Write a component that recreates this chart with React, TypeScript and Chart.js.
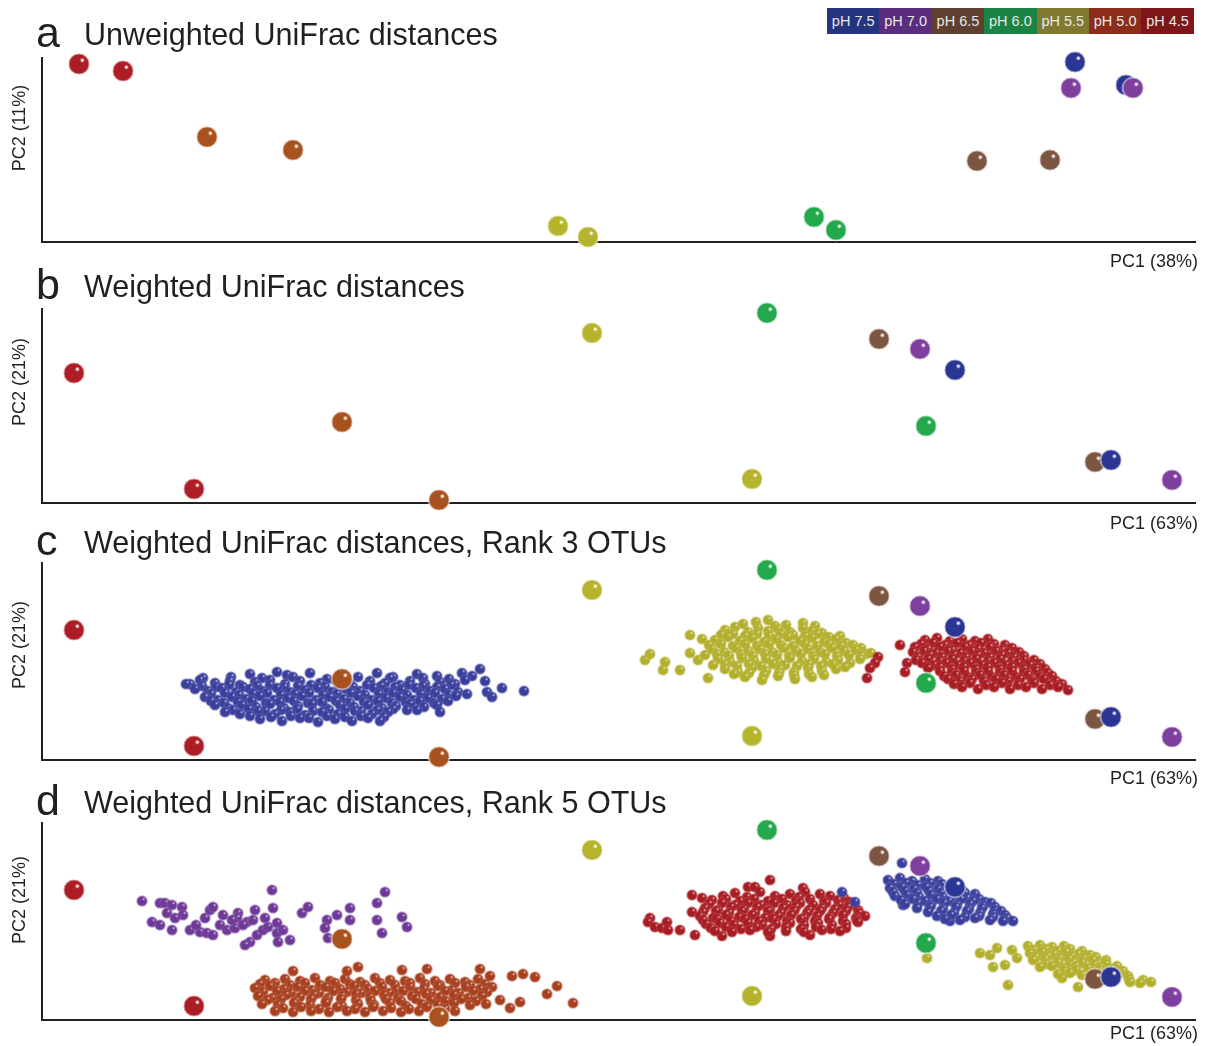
import React, { useEffect, useRef } from "react";
import { Chart, registerables } from "chart.js";
Chart.register(...registerables);

const FONT = '"Liberation Sans", Arial, Helvetica, sans-serif';
const INK = "#231f20";

// ---------- legend ----------
const legendLabels = ["pH 7.5", "pH 7.0", "pH 6.5", "pH 6.0", "pH 5.5", "pH 5.0", "pH 4.5"];
const legendColors = ["#24347f", "#5b2d7e", "#5e3f30", "#1a8445", "#7f7a30", "#8c2d1b", "#7e1518"];

// ---------- large sample points (PC1, PC2 scores, arbitrary units) ----------
type P = [number, number];
const phGroups = ["4.5", "5.0", "5.5", "6.0", "6.5", "7.5", "7.0"];
const largeColors: Record<string, string> = {
  "4.5": "#ad1d26", "5.0": "#a8521f", "5.5": "#b5b42d", "6.0": "#23a84b",
  "6.5": "#7d5642", "7.0": "#7f3f9e", "7.5": "#2b3594",
};

const unweighted: Record<string, P[]> = {
  "4.5": [[3.8, 17.8], [8.2, 17.1]],
  "5.0": [[16.6, 10.5], [25.2, 9.2]],
  "5.5": [[51.7, 1.6], [54.7, 0.5]],
  "6.0": [[77.3, 2.5], [79.5, 1.2]],
  "6.5": [[93.6, 8.1], [100.9, 8.2]],
  "7.5": [[103.4, 18.0], [108.5, 15.7]],
  "7.0": [[103.0, 15.4], [109.2, 15.4]],
};

const weighted: Record<string, P[]> = {
  "4.5": [[3.3, 13.0], [15.3, 1.4]],
  "5.0": [[30.1, 8.1], [39.8, 0.3]],
  "5.5": [[55.1, 17.0], [71.1, 2.4]],
  "6.0": [[72.6, 19.0], [88.5, 7.7]],
  "6.5": [[83.8, 16.4], [105.4, 4.1]],
  "7.5": [[91.4, 13.3], [107.0, 4.3]],
  "7.0": [[87.9, 15.4], [113.1, 2.3]],
};

// ---------- OTU clouds, rank 3 ----------
const rank3Blue: P[] = [
  [20.9, 8.6], [23.6, 8.8], [24.6, 8.5], [26.9, 8.7], [29.8, 8.4], [33.6, 8.7], [35.2, 8.3], [37.6, 8.6], [39.6, 8.4], [42.1, 8.7],
  [16.2, 8.2], [19.0, 8.3], [22.1, 8.2], [25.2, 8.3], [28.6, 8.1], [31.7, 8.3], [34.9, 8.2], [38.2, 8.2], [40.8, 8.1], [43.1, 8.4],
  [14.9, 7.6], [15.9, 8.0], [17.4, 7.7], [18.9, 7.9], [19.9, 7.5], [21.4, 7.8], [22.9, 8.0], [24.4, 7.6], [25.9, 7.9], [27.9, 7.7],
  [29.4, 8.0], [30.9, 7.6], [32.9, 7.9], [34.4, 7.7], [35.9, 7.5], [36.9, 7.9], [38.4, 7.6], [39.9, 7.8], [41.4, 7.6], [42.4, 8.0],
  [16.1, 7.4], [17.5, 7.3], [18.8, 7.5], [20.2, 7.3], [21.6, 7.4], [22.9, 7.5], [24.3, 7.3], [25.7, 7.4], [27.0, 7.5], [28.4, 7.3],
  [29.8, 7.4], [31.2, 7.3], [32.6, 7.5], [34.0, 7.4], [35.4, 7.3], [36.8, 7.5], [38.2, 7.4], [39.6, 7.3], [41.0, 7.5],
  [15.4, 7.1], [16.7, 6.9], [18.1, 7.2], [19.5, 6.8], [20.9, 7.1], [22.2, 6.9], [23.6, 7.2], [24.9, 6.8], [26.4, 7.0], [27.7, 7.2],
  [29.1, 6.8], [30.5, 7.1], [31.9, 6.9], [33.3, 7.2], [34.7, 6.8], [36.1, 7.0], [37.5, 7.2], [38.9, 6.9], [40.4, 7.1], [41.7, 6.8],
  [17.0, 6.6], [18.4, 6.7], [19.8, 6.5], [21.2, 6.6], [22.6, 6.7], [24.0, 6.5], [25.4, 6.6], [26.8, 6.7], [28.2, 6.5], [29.6, 6.6],
  [31.0, 6.7], [32.4, 6.5], [33.8, 6.6], [35.2, 6.7], [36.6, 6.5], [38.0, 6.6], [39.4, 6.7], [40.8, 6.5], [42.6, 6.6],
  [16.4, 6.3], [17.7, 6.0], [19.1, 6.3], [20.5, 6.1], [21.9, 6.4], [23.3, 6.0], [24.7, 6.2], [26.1, 6.4], [27.5, 6.0], [28.9, 6.3],
  [30.3, 6.1], [31.7, 6.4], [33.1, 6.0], [34.5, 6.2], [35.9, 6.3], [37.3, 6.0], [38.7, 6.2], [40.1, 6.1], [41.5, 6.4],
  [17.0, 5.9], [18.3, 5.7], [19.7, 5.8], [21.1, 5.9], [22.5, 5.7], [23.9, 5.8], [25.3, 5.9], [26.7, 5.7], [28.1, 5.8], [29.5, 5.9],
  [30.9, 5.7], [32.3, 5.8], [33.7, 5.9], [35.1, 5.7], [36.5, 5.8], [37.9, 5.9], [39.3, 5.7], [40.7, 5.9],
  [17.4, 5.5], [18.7, 5.2], [20.1, 5.5], [21.5, 5.3], [22.9, 5.6], [24.3, 5.2], [25.7, 5.4], [27.1, 5.6], [28.5, 5.2], [29.9, 5.5],
  [31.3, 5.3], [32.7, 5.5], [34.1, 5.2], [35.5, 5.4], [36.9, 5.6], [38.3, 5.3], [39.6, 5.5],
  [19.2, 5.0], [20.8, 5.1], [22.4, 4.9], [24.0, 5.0], [25.6, 5.1], [27.2, 4.9], [28.8, 5.0], [30.4, 5.1], [32.0, 4.9], [33.6, 5.0], [35.2, 5.1], [37.6, 5.0],
  [18.4, 4.8], [19.9, 4.6], [21.7, 4.9], [23.4, 4.6], [24.9, 4.8], [26.4, 4.5], [28.1, 4.8], [29.7, 4.6], [31.4, 4.9], [33.1, 4.6], [34.7, 4.8],
  [20.9, 4.4], [23.0, 4.3], [25.0, 4.4], [26.8, 4.2], [28.6, 4.4], [30.4, 4.3], [32.0, 4.4], [34.3, 4.3],
  [21.9, 4.1], [24.1, 3.9], [25.9, 4.2], [27.7, 3.8], [29.4, 4.1], [31.1, 3.9], [32.7, 4.2], [33.9, 3.9],
  [43.9, 9.1], [44.4, 7.9], [44.6, 6.8], [45.1, 6.3], [46.1, 7.2], [48.3, 6.9], [39.9, 4.8], [36.6, 5.0], [14.5, 7.6],
];

const rank3Olive: P[] = [
  [60.4, 10.0], [60.9, 10.6], [62.2, 9.0], [62.4, 9.8], [63.9, 9.0], [64.9, 12.5], [66.1, 12.1], [64.9, 10.7], [65.7, 10.0], [66.7, 8.2],
  [72.7, 14.0], [73.4, 13.4], [76.2, 13.7], [70.2, 13.6], [71.5, 13.8], [74.5, 13.5], [77.4, 13.4],
  [68.4, 13.0], [69.4, 13.3], [70.7, 12.8], [71.7, 13.2], [72.7, 12.9], [73.7, 13.1], [74.9, 12.8], [76.2, 13.2], [77.1, 12.9], [78.1, 12.7],
  [68.0, 12.5], [69.2, 12.6], [70.4, 12.4], [71.6, 12.6], [72.8, 12.4], [74.0, 12.6], [75.2, 12.5], [76.4, 12.4], [77.6, 12.6], [78.8, 12.3], [79.9, 12.4],
  [67.4, 12.0], [68.7, 12.3], [69.9, 11.9], [71.1, 12.2], [72.3, 11.8], [73.5, 12.1], [74.7, 12.3], [75.9, 11.9], [77.1, 12.2], [78.3, 11.8], [79.5, 12.1], [80.5, 11.7],
  [66.8, 11.5], [68.0, 11.6], [69.2, 11.4], [70.4, 11.6], [71.6, 11.4], [72.8, 11.6], [74.0, 11.5], [75.2, 11.4], [76.4, 11.6], [77.6, 11.4], [78.8, 11.6], [80.0, 11.4], [81.2, 11.5], [82.0, 11.2],
  [67.1, 11.1], [68.3, 10.8], [69.5, 11.2], [70.7, 10.9], [71.9, 11.1], [73.1, 10.8], [74.3, 11.2], [75.5, 10.9], [76.7, 11.1], [77.9, 10.8], [79.1, 11.2], [80.3, 10.9], [81.5, 11.0], [82.5, 10.6],
  [66.4, 10.5], [67.6, 10.6], [68.8, 10.4], [70.0, 10.6], [71.2, 10.4], [72.4, 10.6], [73.6, 10.5], [74.8, 10.4], [76.0, 10.6], [77.2, 10.4], [78.4, 10.6], [79.6, 10.4], [80.8, 10.5], [82.0, 10.4], [83.0, 10.7],
  [67.7, 10.1], [68.9, 9.8], [70.1, 10.2], [71.3, 9.9], [72.5, 10.1], [73.7, 9.8], [74.9, 10.2], [76.1, 9.9], [77.3, 10.1], [78.5, 9.8], [79.7, 10.0], [80.9, 9.7], [81.9, 10.1],
  [67.2, 9.5], [68.4, 9.6], [69.6, 9.4], [70.8, 9.6], [72.0, 9.4], [73.2, 9.6], [74.4, 9.5], [75.6, 9.4], [76.8, 9.6], [78.0, 9.4], [79.2, 9.6], [80.4, 9.3],
  [68.4, 9.1], [69.7, 8.8], [71.1, 9.2], [72.5, 8.9], [73.9, 9.1], [75.3, 8.8], [76.7, 9.2], [78.1, 8.9], [79.5, 9.1],
  [69.3, 8.6], [70.8, 8.7], [72.3, 8.5], [73.8, 8.7], [75.3, 8.5], [76.8, 8.6], [78.3, 8.5],
  [70.4, 8.3], [72.1, 8.0], [73.7, 8.4], [75.4, 8.1], [77.1, 8.3],
];

const rank3Red: P[] = [
  [85.9, 11.5], [86.6, 9.7], [86.4, 8.8], [83.7, 10.3], [83.4, 9.7], [82.9, 9.2], [82.6, 8.2],
  [88.4, 12.0], [89.6, 12.2], [90.9, 11.9], [92.1, 12.1], [93.4, 11.9], [94.7, 12.1],
  [88.0, 11.6], [89.2, 11.7], [90.4, 11.5], [91.6, 11.7], [92.8, 11.5], [94.0, 11.7], [95.3, 11.6], [96.4, 11.5],
  [87.4, 11.3], [88.7, 11.1], [89.9, 11.3], [91.1, 11.0], [92.4, 11.3], [93.7, 11.1], [94.9, 11.3], [96.1, 11.0], [97.1, 11.2],
  [87.2, 10.8], [88.3, 10.9], [89.5, 10.7], [90.7, 10.9], [91.9, 10.7], [93.1, 10.9], [94.3, 10.7], [95.5, 10.9], [96.7, 10.7], [97.8, 10.8],
  [87.7, 10.3], [88.9, 10.5], [90.1, 10.3], [91.3, 10.5], [92.5, 10.3], [93.7, 10.5], [94.9, 10.3], [96.1, 10.5], [97.3, 10.3], [98.3, 10.4],
  [87.5, 10.0], [88.7, 10.1], [89.9, 9.9], [91.1, 10.1], [92.3, 9.9], [93.5, 10.1], [94.7, 9.9], [95.9, 10.1], [97.1, 9.9], [98.3, 10.0], [99.3, 10.0],
  [88.1, 9.7], [89.3, 9.5], [90.5, 9.7], [91.7, 9.5], [92.9, 9.7], [94.1, 9.5], [95.3, 9.7], [96.5, 9.5], [97.7, 9.7], [98.9, 9.5], [99.9, 9.6],
  [88.7, 9.2], [89.9, 9.3], [91.1, 9.1], [92.3, 9.3], [93.5, 9.1], [94.7, 9.3], [95.9, 9.1], [97.1, 9.3], [98.3, 9.1], [99.5, 9.2], [100.4, 9.1],
  [89.9, 8.9], [91.1, 8.7], [92.3, 8.9], [93.5, 8.7], [94.7, 8.9], [95.9, 8.7], [97.1, 8.9], [98.3, 8.7], [99.5, 8.9], [100.7, 8.7],
  [90.3, 8.4], [91.5, 8.5], [92.7, 8.3], [93.9, 8.5], [95.1, 8.3], [96.3, 8.5], [97.5, 8.3], [98.7, 8.5], [99.9, 8.3], [101.1, 8.4],
  [90.7, 8.1], [91.9, 7.9], [93.1, 8.1], [94.3, 7.9], [95.5, 8.1], [96.7, 7.9], [97.9, 8.1], [99.1, 7.9], [100.3, 8.1], [101.5, 7.9],
  [91.3, 7.6], [92.9, 7.7], [94.5, 7.5], [96.1, 7.7], [97.7, 7.5], [99.3, 7.7], [100.9, 7.5], [102.1, 7.6],
  [92.1, 7.3], [93.7, 7.1], [95.3, 7.3], [96.9, 7.1], [98.5, 7.3], [100.1, 7.1], [101.7, 7.3], [102.7, 7.0],
];

// ---------- OTU clouds, rank 5 ----------
const rank5Purple: P[] = [
  [10.1, 11.9], [11.9, 11.7], [12.4, 11.7], [13.1, 11.5], [14.1, 11.3], [12.6, 10.7], [14.2, 10.5], [13.4, 10.2], [11.1, 9.8], [11.9, 9.5],
  [13.1, 9.0], [14.9, 9.0], [15.9, 8.8], [16.6, 8.7], [17.2, 8.5], [16.4, 10.2], [16.9, 11.0], [17.2, 11.3], [18.2, 10.5], [19.7, 10.7],
  [19.6, 10.2], [20.6, 9.8], [21.2, 10.0], [21.4, 11.0], [23.1, 13.0], [23.2, 11.2], [17.9, 9.5], [18.6, 9.0], [19.4, 9.2], [20.2, 9.5],
  [20.9, 7.8], [20.4, 7.5], [21.6, 8.5], [22.2, 9.0], [22.7, 9.3], [23.6, 9.7], [23.6, 8.7], [24.2, 9.0], [23.7, 7.8], [24.9, 8.0],
  [26.1, 10.7], [26.7, 11.3], [28.6, 10.0], [29.6, 10.5], [30.9, 11.2], [30.9, 10.0], [28.4, 9.2], [28.7, 8.2], [33.6, 11.7], [34.4, 12.8],
  [33.6, 10.0], [34.1, 8.7], [36.1, 10.3], [36.6, 9.3], [19.1, 10.0], [22.4, 10.2], [15.5, 9.5],
];

const rank5Orange: P[] = [
  [22.4, 4.0], [24.4, 4.1], [25.9, 3.9], [27.4, 4.2], [28.9, 3.9], [30.4, 4.1], [31.9, 3.8], [33.4, 4.2], [34.9, 4.0], [36.4, 3.9], [37.9, 4.2], [39.4, 3.9], [40.9, 4.1], [42.4, 3.8], [43.7, 4.1],
  [21.9, 3.6], [23.4, 3.7], [24.9, 3.5], [26.4, 3.7], [27.9, 3.5], [29.4, 3.7], [30.9, 3.6], [32.4, 3.5], [33.9, 3.7], [35.4, 3.5], [36.9, 3.7], [38.4, 3.6], [39.9, 3.5], [41.4, 3.7], [42.9, 3.5], [44.4, 3.6],
  [21.4, 3.2], [22.9, 3.4], [24.3, 3.1], [25.7, 3.3], [27.1, 3.0], [28.5, 3.3], [29.9, 3.1], [31.3, 3.4], [32.7, 3.1], [34.1, 3.3], [35.5, 3.0], [36.9, 3.3], [38.3, 3.1], [39.7, 3.4], [41.1, 3.0], [42.5, 3.3], [43.9, 3.1], [45.1, 3.3],
  [22.2, 2.8], [23.6, 2.9], [25.0, 2.7], [26.4, 2.9], [27.8, 2.7], [29.2, 2.9], [30.6, 2.8], [32.0, 2.7], [33.4, 2.9], [34.8, 2.7], [36.2, 2.9], [37.6, 2.8], [39.0, 2.7], [40.4, 2.9], [41.8, 2.7], [43.2, 2.9], [44.6, 2.8],
  [21.7, 2.4], [23.1, 2.2], [24.5, 2.5], [25.9, 2.3], [27.3, 2.5], [28.7, 2.2], [30.1, 2.4], [31.5, 2.6], [32.9, 2.3], [34.3, 2.5], [35.7, 2.2], [37.1, 2.4], [38.5, 2.6], [39.9, 2.3], [41.3, 2.5], [42.7, 2.2], [44.1, 2.4],
  [22.6, 2.0], [24.0, 2.1], [25.5, 1.9], [27.0, 2.1], [28.5, 1.9], [30.0, 2.1], [31.5, 2.0], [33.0, 1.9], [34.5, 2.1], [36.0, 1.9], [37.5, 2.1], [39.0, 2.0], [40.5, 1.9], [42.0, 2.1], [43.5, 1.9],
  [22.1, 1.6], [23.7, 1.5], [25.3, 1.7], [26.9, 1.5], [28.5, 1.7], [30.1, 1.4], [31.7, 1.6], [33.3, 1.5], [34.9, 1.7], [36.5, 1.4], [38.1, 1.6], [39.7, 1.5], [41.3, 1.7], [42.9, 1.5], [44.5, 1.6],
  [24.2, 1.2], [26.0, 1.3], [27.8, 1.1], [29.6, 1.3], [31.4, 1.1], [33.2, 1.3], [35.0, 1.2], [36.8, 1.1], [38.6, 1.3], [40.4, 1.1],
  [23.4, 0.9], [25.2, 0.8], [27.0, 0.9], [28.8, 0.8], [30.6, 0.9], [32.4, 0.8], [34.2, 0.9], [36.0, 0.8], [37.8, 0.9], [39.6, 0.8], [41.4, 0.9],
  [25.2, 4.9], [30.6, 4.9], [31.7, 5.3], [36.1, 5.0], [38.6, 5.1], [43.9, 5.1], [44.9, 4.4], [47.1, 4.4], [48.2, 4.6], [49.4, 4.3],
  [51.6, 3.4], [50.6, 2.6], [53.2, 1.7], [47.9, 1.8], [46.9, 1.2], [45.9, 2.0],
];

const rank5Red: P[] = [
  [60.9, 10.2], [60.7, 9.8], [61.4, 9.3], [62.1, 9.2], [62.6, 9.8], [62.7, 9.0], [63.9, 9.0], [65.1, 12.5], [66.1, 12.2], [65.1, 10.8], [65.4, 8.5],
  [70.7, 13.3], [72.9, 14.0], [71.4, 13.3], [76.2, 13.2], [68.1, 8.4], [72.9, 8.4], [76.9, 8.5],
  [69.4, 12.7], [71.9, 12.8], [74.9, 12.6], [76.4, 12.8], [77.9, 12.6],
  [68.2, 12.4], [70.6, 12.3], [73.4, 12.4], [75.8, 12.3], [78.9, 12.4], [80.3, 12.2],
  [67.1, 12.0], [68.5, 12.1], [69.9, 11.9], [71.3, 12.1], [72.7, 11.9], [74.1, 12.1], [75.5, 11.9], [76.9, 12.1], [78.3, 11.9], [79.7, 12.0], [80.9, 11.8],
  [66.8, 11.6], [68.1, 11.7], [69.4, 11.5], [70.7, 11.7], [72.0, 11.5], [73.3, 11.7], [74.6, 11.5], [75.9, 11.7], [77.2, 11.5], [78.5, 11.7], [79.8, 11.5], [81.1, 11.6],
  [66.4, 11.2], [67.7, 11.0], [69.0, 11.3], [70.3, 11.1], [71.6, 11.3], [72.9, 11.0], [74.2, 11.2], [75.5, 11.3], [76.8, 11.0], [78.1, 11.2], [79.4, 11.1], [80.7, 11.3], [81.7, 11.0],
  [66.2, 10.8], [67.5, 10.9], [68.8, 10.7], [70.1, 10.9], [71.4, 10.7], [72.7, 10.9], [74.0, 10.7], [75.3, 10.9], [76.6, 10.7], [77.9, 10.9], [79.2, 10.7], [80.5, 10.9], [81.8, 10.7],
  [65.9, 10.4], [67.2, 10.2], [68.5, 10.5], [69.8, 10.3], [71.1, 10.5], [72.4, 10.2], [73.7, 10.4], [75.0, 10.5], [76.3, 10.2], [77.6, 10.4], [78.9, 10.3], [80.2, 10.5], [81.5, 10.2], [82.4, 10.4],
  [66.2, 10.0], [67.6, 10.1], [69.0, 9.9], [70.4, 10.1], [71.8, 9.9], [73.2, 10.1], [74.6, 9.9], [76.0, 10.1], [77.4, 9.9], [78.8, 10.1], [80.2, 9.9], [81.6, 10.0],
  [66.5, 9.6], [67.9, 9.7], [69.3, 9.5], [70.7, 9.7], [72.1, 9.5], [73.5, 9.6], [74.9, 9.7], [76.3, 9.5], [77.7, 9.7], [79.1, 9.5], [80.5, 9.6], [81.7, 9.8],
  [67.0, 9.2], [68.5, 9.3], [70.0, 9.1], [71.5, 9.3], [73.0, 9.1], [74.5, 9.3], [76.0, 9.1], [77.5, 9.3], [79.0, 9.1], [80.5, 9.2],
  [67.4, 8.9], [69.1, 8.8], [70.9, 9.0], [72.7, 8.8], [74.5, 8.9], [76.3, 8.8], [78.1, 9.0], [79.9, 8.9],
];

const rank5Blue: P[] = [
  [86.1, 15.7], [86.2, 11.5], [90.9, 9.9], [80.1, 12.8], [81.4, 11.8],
  [84.7, 14.0], [85.9, 14.2], [87.1, 13.9], [88.4, 14.1], [89.7, 13.9],
  [85.3, 13.6], [86.5, 13.7], [87.7, 13.5], [88.9, 13.7], [90.1, 13.6], [91.3, 13.5],
  [84.9, 13.2], [86.1, 13.3], [87.3, 13.1], [88.5, 13.3], [89.7, 13.1], [90.9, 13.2], [92.1, 13.0],
  [85.2, 12.8], [86.4, 12.9], [87.6, 12.7], [88.8, 12.9], [90.0, 12.7], [91.2, 12.9], [92.4, 12.7], [93.4, 12.6],
  [85.4, 12.4], [86.6, 12.5], [87.8, 12.3], [89.0, 12.5], [90.2, 12.3], [91.4, 12.4], [92.6, 12.2], [93.8, 12.1],
  [86.0, 12.0], [87.2, 12.1], [88.4, 11.9], [89.6, 12.1], [90.8, 11.9], [92.0, 12.1], [93.2, 11.9], [94.4, 11.8], [95.0, 11.7],
  [86.4, 11.6], [87.7, 11.7], [89.0, 11.5], [90.3, 11.7], [91.6, 11.5], [92.9, 11.6], [94.2, 11.4], [95.4, 11.3],
  [87.6, 11.2], [88.9, 11.3], [90.2, 11.1], [91.5, 11.3], [92.8, 11.1], [94.1, 11.2], [95.4, 11.0], [96.0, 10.9],
  [88.7, 10.8], [90.0, 10.9], [91.3, 10.7], [92.6, 10.9], [93.9, 10.7], [95.2, 10.6], [96.4, 10.5],
  [89.6, 10.4], [91.0, 10.5], [92.4, 10.3], [93.8, 10.4], [95.2, 10.3], [96.6, 10.2],
  [90.4, 10.1], [91.9, 10.0], [93.4, 10.2], [94.9, 10.0], [96.2, 9.9], [97.2, 9.9],
];

const rank5Olive: P[] = [
  [93.9, 6.7], [94.9, 6.5], [95.6, 7.2], [95.2, 5.3], [96.4, 5.5], [96.7, 3.5], [97.1, 7.0], [97.6, 6.2], [88.6, 6.2], [102.1, 4.2], [103.7, 3.3],
  [98.7, 7.4], [99.9, 7.5], [101.1, 7.3], [102.3, 7.4],
  [99.3, 7.0], [100.5, 7.1], [101.7, 6.9], [102.9, 7.1], [104.1, 6.9],
  [98.9, 6.7], [100.1, 6.8], [101.3, 6.6], [102.5, 6.8], [103.7, 6.6], [104.9, 6.5],
  [99.5, 6.3], [100.7, 6.4], [101.9, 6.2], [103.1, 6.4], [104.3, 6.2], [105.5, 6.3], [106.5, 6.0],
  [99.2, 6.0], [100.4, 6.1], [101.6, 5.9], [102.8, 6.1], [104.0, 5.9], [105.2, 6.0], [106.4, 5.8],
  [100.5, 5.6], [101.7, 5.7], [102.9, 5.5], [104.1, 5.7], [105.3, 5.5], [106.5, 5.6], [107.6, 5.4],
  [99.9, 5.3], [101.1, 5.4], [102.3, 5.2], [103.5, 5.4], [104.7, 5.2], [105.9, 5.3], [107.1, 5.1],
  [102.3, 4.9], [103.5, 5.0], [104.7, 4.8], [105.9, 5.0], [107.1, 4.8], [108.2, 4.9],
  [101.7, 4.6], [102.9, 4.7], [104.1, 4.5], [105.3, 4.7], [106.5, 4.5], [107.7, 4.6], [108.7, 4.4],
  [106.3, 4.2], [107.6, 4.3], [108.8, 4.1], [110.2, 4.0], [111.0, 3.8],
  [105.9, 3.9], [107.4, 4.0], [108.9, 3.8], [109.9, 3.7],
];

const smallColors = {
  blue: "#3a3f9c", olive: "#b2af2c", red: "#a81d23", purple: "#6f3a97", orange: "#a8401f",
};

// ---------- panels ----------
type Cloud = { pts: P[]; color: string };
type Panel = {
  top: number; bottom: number; yMax: number; letter: string; title: string;
  titleBase: number; pc1: string; pc1Base: number; pc2: string; pc2Center: number;
  large: Record<string, P[]>; clouds: Cloud[];
};

const panels: Panel[] = [
  { top: 58, bottom: 242, yMax: 18.4, letter: "a", title: "Unweighted UniFrac distances", titleBase: 45,
    pc1: "PC1 (38%)", pc1Base: 267, pc2: "PC2 (11%)", pc2Center: 128, large: unweighted, clouds: [] },
  { top: 309, bottom: 503, yMax: 19.4, letter: "b", title: "Weighted UniFrac distances", titleBase: 297,
    pc1: "PC1 (63%)", pc1Base: 529, pc2: "PC2 (21%)", pc2Center: 382, large: weighted, clouds: [] },
  { top: 563, bottom: 760, yMax: 19.7, letter: "c", title: "Weighted UniFrac distances, Rank 3 OTUs", titleBase: 553,
    pc1: "PC1 (63%)", pc1Base: 784, pc2: "PC2 (21%)", pc2Center: 645, large: weighted,
    clouds: [
      { pts: rank3Blue, color: smallColors.blue },
      { pts: rank3Olive, color: smallColors.olive },
      { pts: rank3Red, color: smallColors.red },
    ] },
  { top: 823, bottom: 1020, yMax: 19.7, letter: "d", title: "Weighted UniFrac distances, Rank 5 OTUs", titleBase: 813,
    pc1: "PC1 (63%)", pc1Base: 1039, pc2: "PC2 (21%)", pc2Center: 900, large: weighted,
    clouds: [
      { pts: rank5Purple, color: smallColors.purple },
      { pts: rank5Orange, color: smallColors.orange },
      { pts: rank5Red, color: smallColors.red },
      { pts: rank5Blue, color: smallColors.blue },
      { pts: rank5Olive, color: smallColors.olive },
    ] },
];

const LEFT = 42;
const RIGHT = 1195;
const PAD_TOP = 30;
const PAD_BOTTOM = 15;

function makeSprite(color: string, r: number, ring: string | null, ringW: number, hl: number) {
  const s = Math.ceil(2 * r + 4);
  const c = document.createElement("canvas");
  c.width = s;
  c.height = s;
  const g = c.getContext("2d")!;
  const cx = s / 2;
  g.beginPath();
  g.arc(cx, cx, r, 0, Math.PI * 2);
  g.fillStyle = color;
  g.fill();
  if (ring) {
    g.lineWidth = ringW;
    g.strokeStyle = ring;
    g.stroke();
  }
  g.beginPath();
  g.arc(cx + r * 0.32, cx - r * 0.36, hl, 0, Math.PI * 2);
  g.fillStyle = "rgba(255,255,255,0.95)";
  g.fill();
  return c;
}

function PanelChart({ panel }: { panel: Panel }) {
  const ref = useRef<HTMLCanvasElement | null>(null);
  const height = panel.bottom - panel.top + PAD_TOP + PAD_BOTTOM;
  useEffect(() => {
    if (!ref.current) return;
    // built in painting order (back to front), then reversed because
    // Chart.js paints the first dataset on top
    const datasets: any[] = [];
    panel.clouds.forEach((cl) => {
      const sprite = makeSprite(cl.color, 5.3, "rgba(255,255,255,0.25)", 0.6, 0.9);
      datasets.push({
        data: cl.pts.map(([x, y]) => ({ x, y })),
        pointStyle: sprite, pointRadius: 5, pointHoverRadius: 5, clip: false, showLine: false,
      });
    });
    phGroups.forEach((ph) => {
      const sprite = makeSprite(largeColors[ph], 10.5, "#ffffff", 1, 1.7);
      datasets.push({
        data: panel.large[ph].map(([x, y]) => ({ x, y })),
        pointStyle: sprite, pointRadius: 10, pointHoverRadius: 10, clip: false, showLine: false,
      });
    });
    datasets.reverse();
    const axis = (min: number, max: number) => ({
      type: "linear" as const, min, max,
      ticks: { display: false },
      grid: { display: false, drawTicks: false, tickLength: 0 },
      border: { display: true, color: INK, width: 2 },
      title: { display: false },
    });
    const chart = new Chart(ref.current, {
      type: "scatter",
      data: { datasets },
      options: {
        animation: false,
        responsive: false,
        events: [],
        layout: { padding: { left: LEFT, right: 1207 - RIGHT, top: PAD_TOP, bottom: PAD_BOTTOM } },
        plugins: { legend: { display: false }, tooltip: { enabled: false } },
        scales: { x: axis(0.1, 115.4), y: axis(0, panel.yMax) },
      },
    });
    return () => chart.destroy();
  }, [panel]);
  return (
    <canvas
      ref={ref}
      width={1207}
      height={height}
      style={{ position: "absolute", left: 0, top: panel.top - PAD_TOP, width: 1207, height }}
    />
  );
}

function Text({ x, base, size, children, style }: { x: number; base: number; size: number; children: React.ReactNode; style?: React.CSSProperties }) {
  return (
    <div
      style={{
        position: "absolute", left: x, top: base - 0.8465 * size, fontSize: size, lineHeight: `${size}px`,
        fontFamily: FONT, color: INK, whiteSpace: "nowrap", ...style,
      }}
    >
      {children}
    </div>
  );
}

export default function App() {
  return (
    <div style={{ position: "absolute", left: 0, top: 0, width: 1207, height: 1046, background: "#fff", overflow: "hidden", fontFamily: FONT }}>
      {panels.map((p) => (
        <PanelChart key={p.letter} panel={p} />
      ))}
      {panels.map((p) => (
        <React.Fragment key={"t" + p.letter}>
          <Text x={36} base={p.titleBase + 2} size={43}>{p.letter}</Text>
          <Text x={84} base={p.titleBase} size={30.5}>{p.title}</Text>
          <Text x={0} base={p.pc1Base} size={18} style={{ width: 1198, textAlign: "right" }}>{p.pc1}</Text>
          <div
            style={{
              position: "absolute", left: 19 - 100, top: p.pc2Center - 9, width: 200, height: 18,
              lineHeight: "18px", fontSize: 18, textAlign: "center", color: INK, fontFamily: FONT,
              transform: "rotate(-90deg)", whiteSpace: "nowrap",
            }}
          >
            {p.pc2}
          </div>
        </React.Fragment>
      ))}
      <div style={{ position: "absolute", left: 827, top: 8, height: 26, display: "flex" }}>
        {legendLabels.map((l, i) => (
          <div
            key={l}
            style={{
              width: 52.4, height: 26, background: legendColors[i], color: "#e8e8e8", fontSize: 14.5,
              lineHeight: "26px", textAlign: "center", fontFamily: FONT, whiteSpace: "nowrap",
            }}
          >
            {l}
          </div>
        ))}
      </div>
    </div>
  );
}
